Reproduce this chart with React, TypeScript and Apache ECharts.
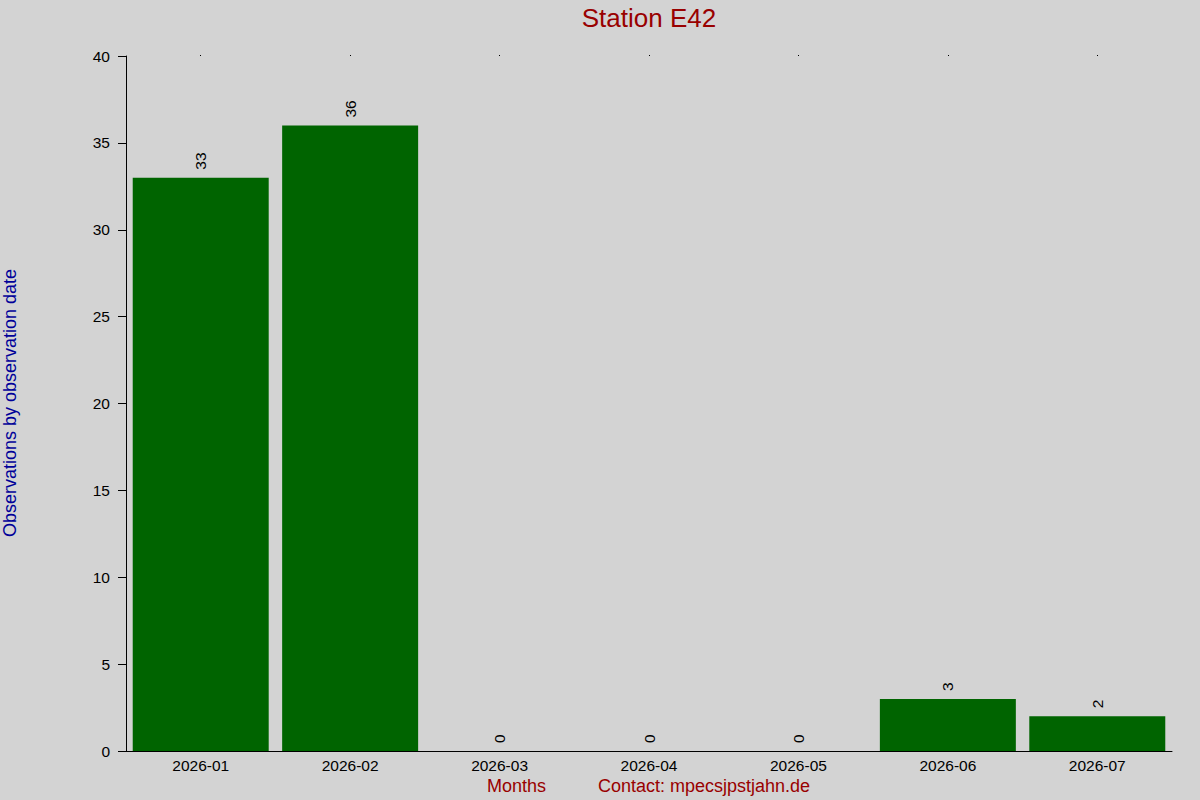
import React, { useEffect, useRef } from "react";
import * as echarts from "echarts";

const categories = ["2026-01", "2026-02", "2026-03", "2026-04", "2026-05", "2026-06", "2026-07"];
const counts = [33, 36, 0, 0, 0, 3, 2];
const titleText = "Station E42";
const yName = "Observations by observation date";
const xName = "Months";
const contactText = "Contact: mpecsjpstjahn.de";

export default function App() {
  const ref = useRef<HTMLDivElement>(null);
  useEffect(() => {
    if (!ref.current) return;
    const chart = echarts.init(ref.current, null, { renderer: "svg" });
    const font = "Liberation Sans, Arial, sans-serif";
    chart.setOption({
      animation: false,
      backgroundColor: "#d3d3d3",
      grid: { left: 126, right: 28, top: 56, bottom: 49 },
      xAxis: [
        {
          type: "category",
          data: categories,
          axisLine: { show: true, lineStyle: { color: "#000", width: 1 } },
          axisTick: { show: false },
          axisLabel: { color: "#000", fontSize: 15.5, fontFamily: font, margin: 6 },
          splitLine: { show: false },
        },
        {
          type: "category",
          position: "top",
          data: categories,
          axisLine: { show: false },
          axisTick: { show: true, alignWithLabel: true, length: 1, lineStyle: { color: "#000" } },
          axisLabel: { show: false },
        },
      ],
      yAxis: {
        type: "value",
        min: 0,
        max: 40,
        interval: 5,
        axisLine: { show: true, lineStyle: { color: "#000", width: 1 } },
        axisTick: { show: true, length: 8, lineStyle: { color: "#000" } },
        axisLabel: { color: "#000", fontSize: 15.5, fontFamily: font, margin: 16 },
        splitLine: { show: false },
      },
      series: [
        {
          type: "bar",
          data: counts,
          barCategoryGap: "9%",
          itemStyle: { color: "#006400" },
          label: {
            show: true,
            position: "top",
            rotate: 90,
            align: "left",
            verticalAlign: "middle",
            distance: 8,
            color: "#000",
            fontSize: 15.5,
            fontFamily: font,
          },
        },
      ],
      graphic: [
        {
          type: "line",
          shape: { x1: 118, y1: 751.5, x2: 126, y2: 751.5 },
          style: { stroke: "#000", lineWidth: 1 },
        },
        {
          type: "text",
          x: 649,
          y: 18,
          style: {
            text: titleText,
            fill: "#990000",
            font: `26px ${font}`,
            textAlign: "center",
            textVerticalAlign: "middle",
          },
        },
        {
          type: "text",
          x: 10,
          y: 403,
          rotation: Math.PI / 2,
          style: {
            text: yName,
            fill: "#000099",
            font: `18px ${font}`,
            textAlign: "center",
            textVerticalAlign: "middle",
          },
        },
        {
          type: "text",
          x: 487,
          y: 786,
          style: {
            text: xName,
            fill: "#990000",
            font: `18px ${font}`,
            textAlign: "left",
            textVerticalAlign: "middle",
          },
        },
        {
          type: "text",
          x: 598,
          y: 786,
          style: {
            text: contactText,
            fill: "#990000",
            font: `18px ${font}`,
            textAlign: "left",
            textVerticalAlign: "middle",
          },
        },
      ],
    });
    return () => chart.dispose();
  }, []);
  return (
    <div
      ref={ref}
      style={{ position: "fixed", left: 0, top: 0, width: 1200, height: 800 }}
    />
  );
}
